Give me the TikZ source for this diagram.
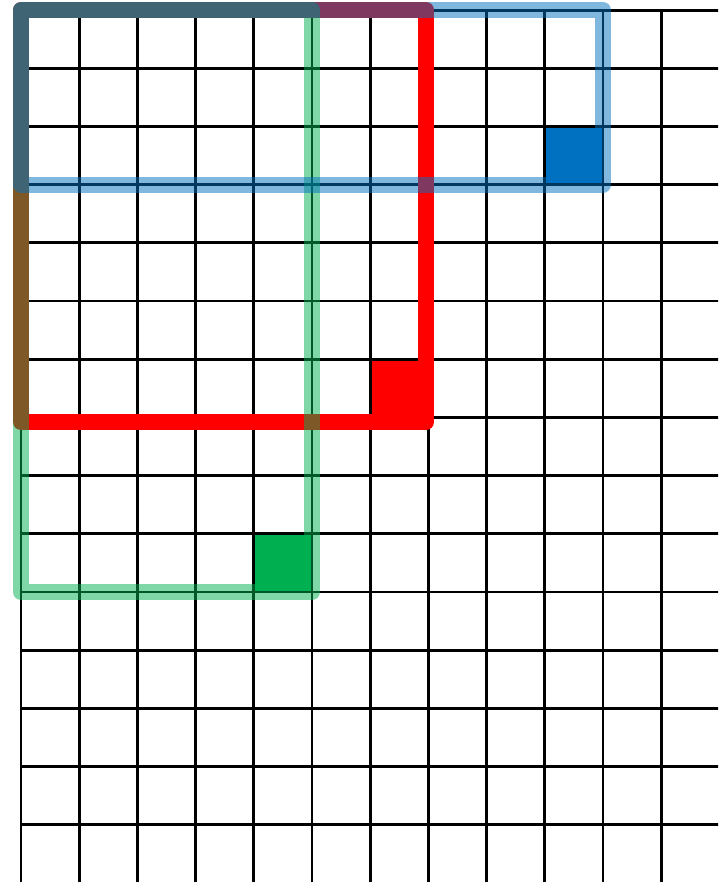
\documentclass[tikz,border=0pt]{standalone}
\definecolor{cblue}{HTML}{0070C0}
\definecolor{cgreen}{HTML}{00B050}
\definecolor{cred}{HTML}{FF0000}
\tikzset{
  gridline/.style={black, line width=1.45pt},
  frame/.style={line width=0.275cm, line join=round},
}
\begin{document}
\begin{tikzpicture}
\useasboundingbox (-0.361,0.172) rectangle (11.976,-15.0);
\clip (-0.361,0.172) rectangle (11.976,-15.0);
% filled cells
\fill[cblue] (9,-2) rectangle (10,-3);
\fill[cred] (6,-6) rectangle (7,-7);
\fill[cgreen] (4,-9) rectangle (5,-10);
% grid
\draw[gridline] (0,0) grid (11.99,-14.99);
% frames
\draw[frame, cred] (0,0) rectangle (6.96,-7.08);
\draw[frame, cgreen, draw opacity=0.5] (0,0) rectangle (5,-10);
\draw[frame, cblue, draw opacity=0.5] (0,0) rectangle (10,-3);
\end{tikzpicture}
\end{document}
